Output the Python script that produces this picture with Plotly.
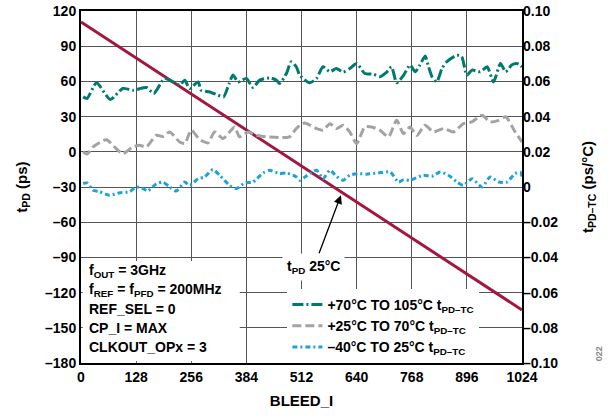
import plotly.graph_objects as go

# --- data ---
tpd_x = [0, 1024]
tpd_ps = [110.6, -134.8]

teal_x = [5, 14, 36, 68, 97, 121, 152, 169, 194, 214, 229, 241, 252, 272, 279, 299, 318, 331, 344, 353,
          365, 384, 399, 415, 438, 454, 461, 477, 488, 500, 508, 531, 547, 562, 578, 593, 609, 624, 640,
          659, 679, 694, 710, 721, 733, 749, 764, 776, 787, 799, 807, 815, 826, 838, 849, 873, 884, 896,
          908, 927, 943, 958, 974, 986, 1000, 1012, 1024]
teal_tc = [0.0512, 0.0503, 0.0592, 0.0497, 0.0560, 0.0550, 0.0565, 0.0531, 0.0617, 0.0597, 0.0579,
           0.0607, 0.0560, 0.0597, 0.0550, 0.0540, 0.0522, 0.0512, 0.0588, 0.0636, 0.0597, 0.0617,
           0.0565, 0.0607, 0.0620, 0.0607, 0.0588, 0.0645, 0.0711, 0.0683, 0.0635, 0.0592, 0.0617,
           0.0683, 0.0655, 0.0673, 0.0653, 0.0673, 0.0702, 0.0645, 0.0641, 0.0627, 0.0653, 0.0683,
           0.0592, 0.0635, 0.0693, 0.0655, 0.0693, 0.0744, 0.0683, 0.0627, 0.0597, 0.0673, 0.0711,
           0.0749, 0.0740, 0.0635, 0.0664, 0.0655, 0.0683, 0.0597, 0.0702, 0.0655, 0.0693, 0.0702,
           0.0683]

gray_x = [5, 14, 28, 59, 78, 97, 121, 136, 152, 175, 190, 206, 229, 241, 256, 276, 295, 310, 330, 345,
          357, 368, 388, 407, 430, 461, 484, 500, 508, 520, 547, 562, 578, 593, 609, 624, 640, 659, 675,
          694, 714, 733, 749, 764, 780, 799, 818, 842, 865, 888, 908, 931, 950, 970, 986, 1008, 1024]
gray_tc = [0.0200, 0.0187, 0.0228, 0.0269, 0.0227, 0.0190, 0.0228, 0.0237, 0.0228, 0.0294, 0.0287,
           0.0313, 0.0256, 0.0247, 0.0323, 0.0269, 0.0251, 0.0313, 0.0275, 0.0313, 0.0341, 0.0285,
           0.0313, 0.0294, 0.0285, 0.0281, 0.0285, 0.0332, 0.0351, 0.0364, 0.0332, 0.0323, 0.0360,
           0.0332, 0.0351, 0.0313, 0.0247, 0.0341, 0.0341, 0.0323, 0.0285, 0.0379, 0.0303, 0.0341,
           0.0293, 0.0351, 0.0313, 0.0332, 0.0313, 0.0360, 0.0370, 0.0408, 0.0370, 0.0379, 0.0399,
           0.0313, 0.0256]

blue_x = [5, 14, 28, 43, 66, 90, 113, 128, 144, 155, 175, 190, 206, 221, 241, 252, 272, 287, 306, 322,
          345, 361, 380, 399, 423, 438, 461, 477, 500, 508, 520, 547, 562, 578, 593, 609, 624, 644, 663,
          690, 718, 737, 749, 764, 795, 815, 834, 853, 873, 888, 908, 931, 950, 970, 989, 1008, 1020, 1024]
blue_tc = [0.0020, 0.0023, -0.0019, -0.0027, -0.0047, -0.0033, -0.0027, 0.0000, -0.0009, -0.0023,
           0.0019, 0.0028, 0.0000, -0.0023, 0.0028, 0.0009, 0.0047, 0.0057, 0.0099, 0.0067, 0.0009,
           -0.0009, 0.0023, 0.0028, 0.0080, 0.0095, 0.0076, 0.0080, 0.0057, 0.0038, 0.0057, 0.0095,
           0.0047, 0.0095, 0.0061, 0.0038, 0.0067, 0.0076, 0.0073, 0.0080, 0.0085, 0.0028, 0.0042,
           0.0038, 0.0067, 0.0061, 0.0085, 0.0067, 0.0028, 0.0009, 0.0047, 0.0000, 0.0057, 0.0028,
           0.0028, 0.0076, 0.0085, 0.0060]

x_ticks = [0, 128, 256, 384, 512, 640, 768, 896, 1024]
left_ticks = [120, 90, 60, 30, 0, -30, -60, -90, -120, -150, -180]
right_ticks = [0.10, 0.08, 0.06, 0.04, 0.02, 0, -0.02, -0.04, -0.06, -0.08, -0.10]

annot_lines = ["f<sub>OUT</sub> = 3GHz", "f<sub>REF</sub> = f<sub>PFD</sub> = 200MHz",
               "REF_SEL = 0", "CP_I = MAX", "CLKOUT_OPx = 3"]

series_names = ["+70°C TO 105°C t<sub>PD\u2013TC</sub>", "+25°C TO 70°C t<sub>PD\u2013TC</sub>",
                "\u201340°C TO 25°C t<sub>PD\u2013TC</sub>"]

# --- styles ---
FONT = "Liberation Sans, Arial, sans-serif"
TEAL = "#007A6C"
GRAY = "#A3A3A3"
BLUE = "#1AA3DA"
RED = "#A3173F"
GRID = "#555555"


def fmt_left(v):
    return str(v).replace("-", "\u2013")


def fmt_right(v):
    if v == 0:
        return "0"
    return f"{v:.2f}".replace("-", "\u2013")


fig = go.Figure()

fig.add_trace(go.Scatter(x=teal_x, y=teal_tc, yaxis="y2", name=series_names[0], mode="lines",
                         line=dict(color=TEAL, width=3, dash="11px,3px,2px,3px", shape="spline", smoothing=0.6)))
fig.add_trace(go.Scatter(x=gray_x, y=gray_tc, yaxis="y2", name=series_names[1], mode="lines",
                         line=dict(color=GRAY, width=3, dash="9px,4px", shape="spline", smoothing=0.6)))
fig.add_trace(go.Scatter(x=blue_x, y=blue_tc, yaxis="y2", name=series_names[2], mode="lines",
                         line=dict(color=BLUE, width=3, dash="5px,3px,2px,3px", shape="spline", smoothing=0.6)))
fig.add_trace(go.Scatter(x=tpd_x, y=tpd_ps, yaxis="y", mode="lines", showlegend=False,
                         line=dict(color=RED, width=3)))

# white box for the conditions text
fig.add_shape(type="rect", xref="paper", yref="paper", x0=0.004, x1=0.36, y0=0.005, y1=0.29,
              fillcolor="white", line=dict(width=0), layer="above")
for i, t in enumerate(annot_lines):
    fig.add_annotation(xref="paper", yref="paper", x=0.014, y=0.262 - i * 0.054, text=t,
                       showarrow=False, xanchor="left", yanchor="middle",
                       font=dict(family=FONT, size=14, color="black", weight="bold"))

# tPD 25°C label with arrow
arrow_x = 606
arrow_y = tpd_ps[0] + (tpd_ps[1] - tpd_ps[0]) * arrow_x / tpd_x[1]
fig.add_annotation(x=arrow_x, y=arrow_y, xref="x", yref="y", ax=541, ay=-98, axref="x", ayref="y",
                   text="t<sub>PD</sub> 25°C", showarrow=True, arrowhead=2, arrowsize=1.3, arrowwidth=1.3,
                   arrowcolor="black", standoff=3, bgcolor="white", borderpad=4,
                   font=dict(family=FONT, size=14, color="black", weight="bold"))

fig.add_annotation(xref="paper", yref="paper", x=1.19, y=0.0, text="022", showarrow=False,
                   textangle=-90, font=dict(family=FONT, size=9, color="#888888"))

fig.update_layout(
    width=608, height=417,
    margin=dict(l=81, r=86, t=11, b=54),
    paper_bgcolor="white", plot_bgcolor="white",
    font=dict(family=FONT, size=14, color="black", weight="bold"),
    xaxis=dict(range=[0, 1024], tickvals=x_ticks, ticktext=[str(v) for v in x_ticks],
               showgrid=True, gridcolor=GRID, gridwidth=1.3, zeroline=False, automargin=False,
               showline=True, linecolor="black", linewidth=2, mirror=True, ticks="",
               title=dict(text="BLEED_I", font=dict(size=15, weight="bold"), standoff=12),
               tickfont=dict(size=14, weight="bold")),
    yaxis=dict(range=[-180, 120], tickvals=left_ticks, ticktext=[fmt_left(v) for v in left_ticks],
               showgrid=True, gridcolor=GRID, gridwidth=1.3, zeroline=False, automargin=False,
               showline=True, linecolor="black", linewidth=2, mirror=True, ticks="",
               title=dict(text="t<sub>PD</sub> (ps)", font=dict(size=15, weight="bold"), standoff=14),
               tickfont=dict(size=14, weight="bold")),
    yaxis2=dict(range=[-0.10, 0.10], overlaying="y", side="right", tickvals=right_ticks,
                ticktext=[fmt_right(v) for v in right_ticks], showgrid=False, zeroline=False,
                showline=False, ticks="", automargin=False,
                title=dict(text="t<sub>PD\u2013TC</sub> (ps/°C)", font=dict(size=15, weight="bold"), standoff=25),
                tickfont=dict(size=14, weight="bold")),
    legend=dict(x=0.468, y=0.0, xanchor="left", yanchor="bottom", bgcolor="white",
                borderwidth=0, font=dict(size=14, weight="bold", family=FONT),
                tracegroupgap=0, itemwidth=30),
    showlegend=True,
)

fig.write_html("out.html", config={"displayModeBar": False},
               post_script="document.body.style.margin='0px';")
